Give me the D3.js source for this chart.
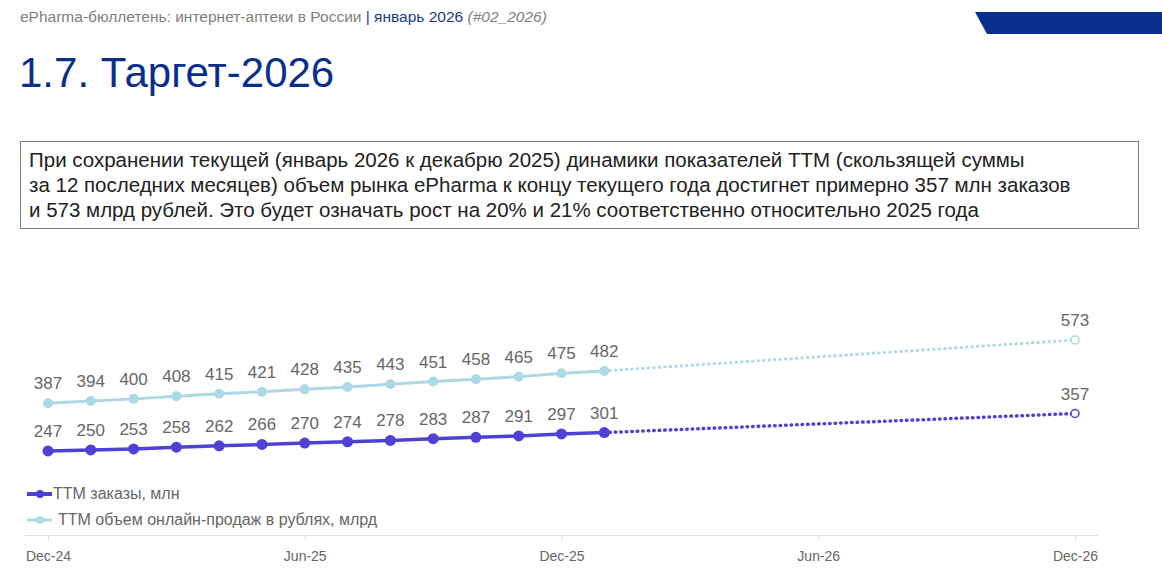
<!DOCTYPE html>
<html><head><meta charset="utf-8">
<script src="https://cdn.jsdelivr.net/npm/d3@7"></script>
<style>
body{margin:0;background:#fff;font-family:"Liberation Sans",Arial,sans-serif;}
</style></head>
<body><svg id="c" width="1162" height="576"></svg>
<script>
// Monthly TTM values, Dec-24 .. Jan-26
const months = d3.range(14); // month index from Dec-24
const orders = [247, 250, 253, 258, 262, 266, 270, 274, 278, 283, 287, 291, 297, 301];
const sales = [387, 394, 400, 408, 415, 421, 428, 435, 443, 451, 458, 465, 475, 482];
const targetMonth = 24; // Dec-26
const ordersTarget = 357;
const salesTarget = 573;
const tickMonths = [0, 6, 12, 18, 24];
const tickLabels = ['Dec-24', 'Jun-25', 'Dec-25', 'Jun-26', 'Dec-26'];

const svg = d3.select('#c');

// header
svg.append('text').attr('x', 20).attr('y', 22).style('font-size', '15.5px').attr('fill', '#808080')
  .text('ePharma-бюллетень: интернет-аптеки в России ')
  .append('tspan').attr('fill', '#1a3a8f').text('| январь 2026 ')
  .append('tspan').attr('fill', '#808080').style('font-style', 'italic').text('(#02_2026)');
svg.append('path').attr('d', 'M975,12 L1162,12 L1162,34 L987,34 Z').attr('fill', '#0a2f8a');
svg.append('text').attr('x', 19).attr('y', 87).style('font-size', '42px').attr('fill', '#0a2f8a')
  .text('1.7. Таргет-2026');

// text box
svg.append('rect').attr('x', 20.5).attr('y', 141.5).attr('width', 1118).attr('height', 87)
  .attr('fill', 'none').attr('stroke', '#808080');
const lines = [
  'При сохранении текущей (январь 2026 к декабрю 2025) динамики показателей TTM (скользящей суммы',
  'за 12 последних месяцев) объем рынка ePharma к концу текущего года достигнет примерно 357 млн заказов',
  'и 573 млрд рублей. Это будет означать рост на 20% и 21% соответственно относительно 2025 года'
];
lines.forEach((t, i) => svg.append('text').attr('x', 29).attr('y', 167 + i * 25)
  .style('font-size', '20.5px').attr('fill', '#222').text(t));

// scales
const x = d3.scaleLinear().domain([0, 24]).range([48, 1075]);
const y = d3.scaleLinear().domain([0, 573]).range([535, 340]);

// axis
svg.append('line').attr('x1', 25).attr('x2', 1098).attr('y1', 535.5).attr('y2', 535.5)
  .attr('stroke', '#e0e0e0');
const ax = svg.append('g').attr('transform', 'translate(0,535)')
  .call(d3.axisBottom(x).tickValues(tickMonths).tickFormat((d, i) => tickLabels[i]).tickSize(5));
ax.select('.domain').remove();
ax.selectAll('line').attr('stroke', '#e0e0e0');
ax.selectAll('text').attr('fill', '#666').style('font-size', '14px').attr('dy', '1.3em')
  .style('font-family', '"Liberation Sans",Arial,sans-serif');

function series(vals, target, color, width, r) {
  const pts = months.map(m => [m, vals[m]]);
  const line = d3.line().x(d => x(d[0])).y(d => y(d[1]));
  svg.append('path').datum([pts[pts.length - 1], [targetMonth, target]]).attr('d', line)
    .attr('fill', 'none').attr('stroke', color).attr('stroke-width', width)
    .attr('stroke-dasharray', '0.5,5').attr('stroke-linecap', 'round');
  svg.append('path').datum(pts).attr('d', line).attr('fill', 'none')
    .attr('stroke', color).attr('stroke-width', width);
  svg.selectAll(null).data(pts).enter().append('circle')
    .attr('cx', d => x(d[0])).attr('cy', d => y(d[1])).attr('r', r).attr('fill', color);
  svg.append('circle').attr('cx', x(targetMonth)).attr('cy', y(target)).attr('r', 4)
    .attr('fill', '#fff').attr('stroke', color).attr('stroke-width', 1.5);
  const lbl = pts.concat([[targetMonth, target]]);
  svg.selectAll(null).data(lbl).enter().append('text')
    .attr('x', d => x(d[0])).attr('y', d => y(d[1]) - 14).attr('text-anchor', 'middle')
    .style('font-size', '17px').attr('fill', '#666').text(d => d[1]);
}
series(sales, salesTarget, '#add8e6', 3, 5);
series(orders, ordersTarget, '#5040d4', 3.5, 5.5);

// legend
const leg = [['TTM заказы, млн', '#5040d4', 4], ['TTM объем онлайн-продаж в рублях, млрд', '#add8e6', 3]];
leg.forEach((l, i) => {
  const ly = 494 + i * 26;
  svg.append('line').attr('x1', 27).attr('x2', 52).attr('y1', ly).attr('y2', ly)
    .attr('stroke', l[1]).attr('stroke-width', l[2]);
  svg.append('circle').attr('cx', 40).attr('cy', ly).attr('r', 4).attr('fill', l[1]);
  svg.append('text').attr('x', i ? 58 : 53).attr('y', ly + 5).style('font-size', '16px')
    .attr('fill', '#666').text(l[0]);
});
</script></body></html>
